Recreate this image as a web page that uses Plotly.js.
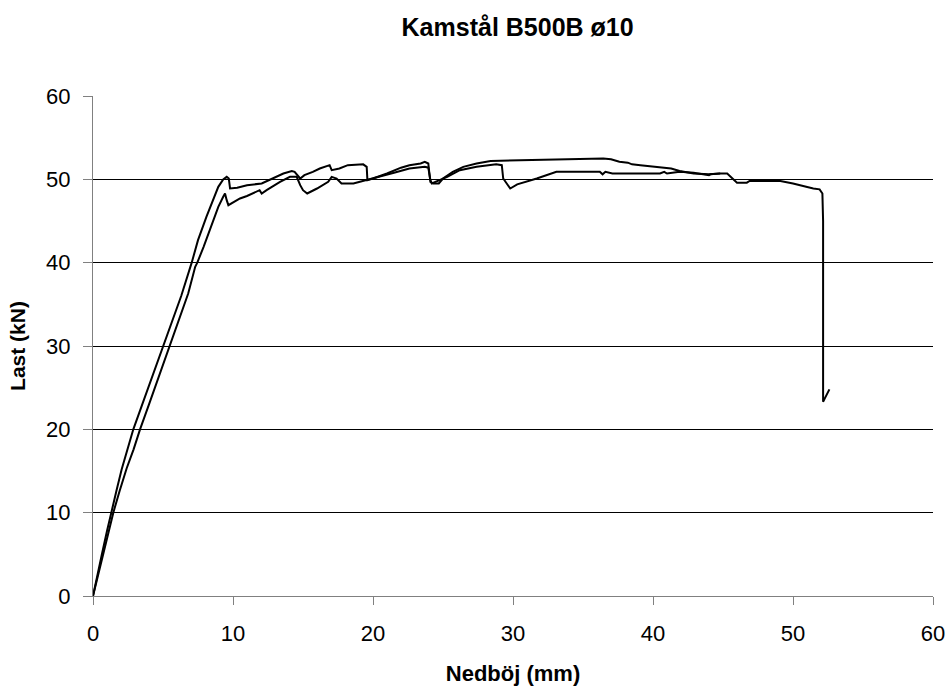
<!DOCTYPE html>
<html>
<head>
<meta charset="utf-8">
<script src="https://cdn.plot.ly/plotly-3.0.1.min.js"></script>
<style>
  html, body { margin: 0; padding: 0; background: #ffffff; }
  #chart { width: 948px; height: 688px; }
</style>
</head>
<body>
<div id="chart"></div>
<script>
// Load–deflection curves for two ribbed B500B bars (ø10)
const deflectionA = [0,0.3,0.62,1.0,1.33,1.7,2.05,2.4,2.88,3.5,4.2,4.98,5.6,6.3,7.05,7.5,8.1,8.6,8.95,9.3,9.55,9.7,9.79,10.3,11.0,12.05,12.6,13.6,14.2,14.4,14.8,15.1,15.7,16.2,16.9,17.05,17.6,18.2,19.3,19.55,19.6,20.0,21.0,22.0,22.6,23.4,23.7,23.95,24.0,24.1,24.3,24.7,25.0,25.7,26.45,27.4,28.4,30.5,30.8,31.5,33.6,35.0,36.45,37.0,37.6,38.2,38.5,39.1,40.0,40.5,41.3,41.9,42.9,44.0,44.8];
const loadA = [0,2.5,4.9,7.8,10,12.8,15.2,17.2,20,22.9,26.2,30,32.7,36.0,40,42.7,45.5,47.5,49.1,50.0,50.3,50.1,48.9,49.0,49.3,49.5,49.9,50.7,51.0,50.9,50.1,50.5,50.9,51.3,51.7,51.1,51.3,51.7,51.8,51.5,49.9,50.1,50.7,51.4,51.7,51.9,52.1,51.9,51.1,49.7,49.5,49.5,50.1,50.9,51.5,51.9,52.2,52.3,52.3,52.3,52.4,52.5,52.5,52.4,52.1,52.0,51.8,51.7,51.5,51.4,51.3,51.0,50.7,50.6,50.7];

const deflectionB = [0,0.35,0.74,1.1,1.45,1.9,2.4,2.9,3.36,4.0,4.7,5.45,6.1,6.8,7.3,7.45,7.9,8.6,8.95,9.3,9.43,9.55,9.67,10.5,11.0,11.9,12.05,12.4,12.6,13.36,14.07,14.55,14.8,15.0,15.3,16.0,16.8,17.05,17.4,17.75,18.6,19.55,20.5,21.5,22.6,23.7,23.95,24.1,24.2,24.5,25.3,26.2,27.4,28.8,29.2,29.3,29.55,29.8,30.3,30.5,31.7,33.1,36.2,36.4,36.6,37.1,40.5,40.8,41.0,41.9,42.9,44.0,44.1,44.8,45.3,46.0,46.7,46.9,49.1,50.0,50.7,51.45,51.9,52.1,52.15,52.15,52.3,52.6];
const loadB = [0,2.5,4.9,7.5,10,12.6,15.3,17.6,20,23.0,26.3,30,33.0,36.3,39.5,40,41.9,45.1,46.7,47.9,48.3,47.5,46.9,47.7,48.0,48.7,48.3,48.7,48.9,49.7,50.3,50.3,49.3,48.7,48.3,48.9,49.7,50.3,50.1,49.5,49.5,49.9,50.3,50.8,51.3,51.5,51.4,49.9,49.5,49.7,50.3,51.1,51.5,51.8,51.7,50.1,49.5,48.9,49.4,49.5,50.1,50.9,50.9,50.6,50.9,50.7,50.7,50.9,50.7,50.9,50.8,50.5,50.6,50.7,50.7,49.6,49.6,49.8,49.8,49.5,49.2,48.9,48.8,48.3,45,23.3,23.8,24.8];

const xTicks = [0,10,20,30,40,50,60];
const yTicks = [0,10,20,30,40,50,60];

const FONT = '"Liberation Sans", Arial, sans-serif';

const lineStyle = { color: '#000000', width: 2 };

const traces = [
  { x: deflectionA, y: loadA, type: 'scatter', mode: 'lines', line: lineStyle, hoverinfo: 'x+y' },
  { x: deflectionB, y: loadB, type: 'scatter', mode: 'lines', line: lineStyle, hoverinfo: 'x+y' }
];

const layout = {
  width: 948,
  height: 688,
  paper_bgcolor: '#ffffff',
  plot_bgcolor: '#ffffff',
  showlegend: false,
  margin: { l: 93, r: 15, t: 96, b: 92 },
  font: { family: FONT, color: '#000000', size: 22 },
  title: {
    text: '<b>Kamstål B500B ø10</b>',
    font: { family: FONT, size: 25, color: '#000000' },
    x: 0.546, xref: 'container', xanchor: 'center',
    y: 0.961, yref: 'container', yanchor: 'middle'
  },
  xaxis: {
    range: [0, 60],
    tickvals: xTicks,
    ticktext: xTicks.map(String),
    showgrid: false,
    zeroline: false,
    showline: true,
    linecolor: '#808080',
    linewidth: 1,
    ticks: 'outside',
    ticklen: 8,
    tickcolor: '#808080',
    ticklabelstandoff: 10,
    tickfont: { family: FONT, size: 22, color: '#000000' },
    title: { text: '<b>Nedböj (mm)</b>', font: { family: FONT, size: 22, color: '#000000' }, standoff: 20 },
    fixedrange: true
  },
  yaxis: {
    range: [0, 60],
    tickvals: yTicks,
    ticktext: yTicks.map(String),
    showgrid: true,
    gridcolor: '#000000',
    gridwidth: 1,
    zeroline: false,
    showline: true,
    linecolor: '#808080',
    linewidth: 1,
    ticks: 'outside',
    ticklen: 9,
    tickcolor: '#808080',
    ticklabelstandoff: 8,
    tickfont: { family: FONT, size: 22, color: '#000000' },
    title: { text: '<b>Last (kN)</b>', font: { family: FONT, size: 21, color: '#000000' }, standoff: 14 },
    fixedrange: true
  }
};

Plotly.newPlot('chart', traces, layout, { displayModeBar: false, staticPlot: true });
</script>
</body>
</html>
